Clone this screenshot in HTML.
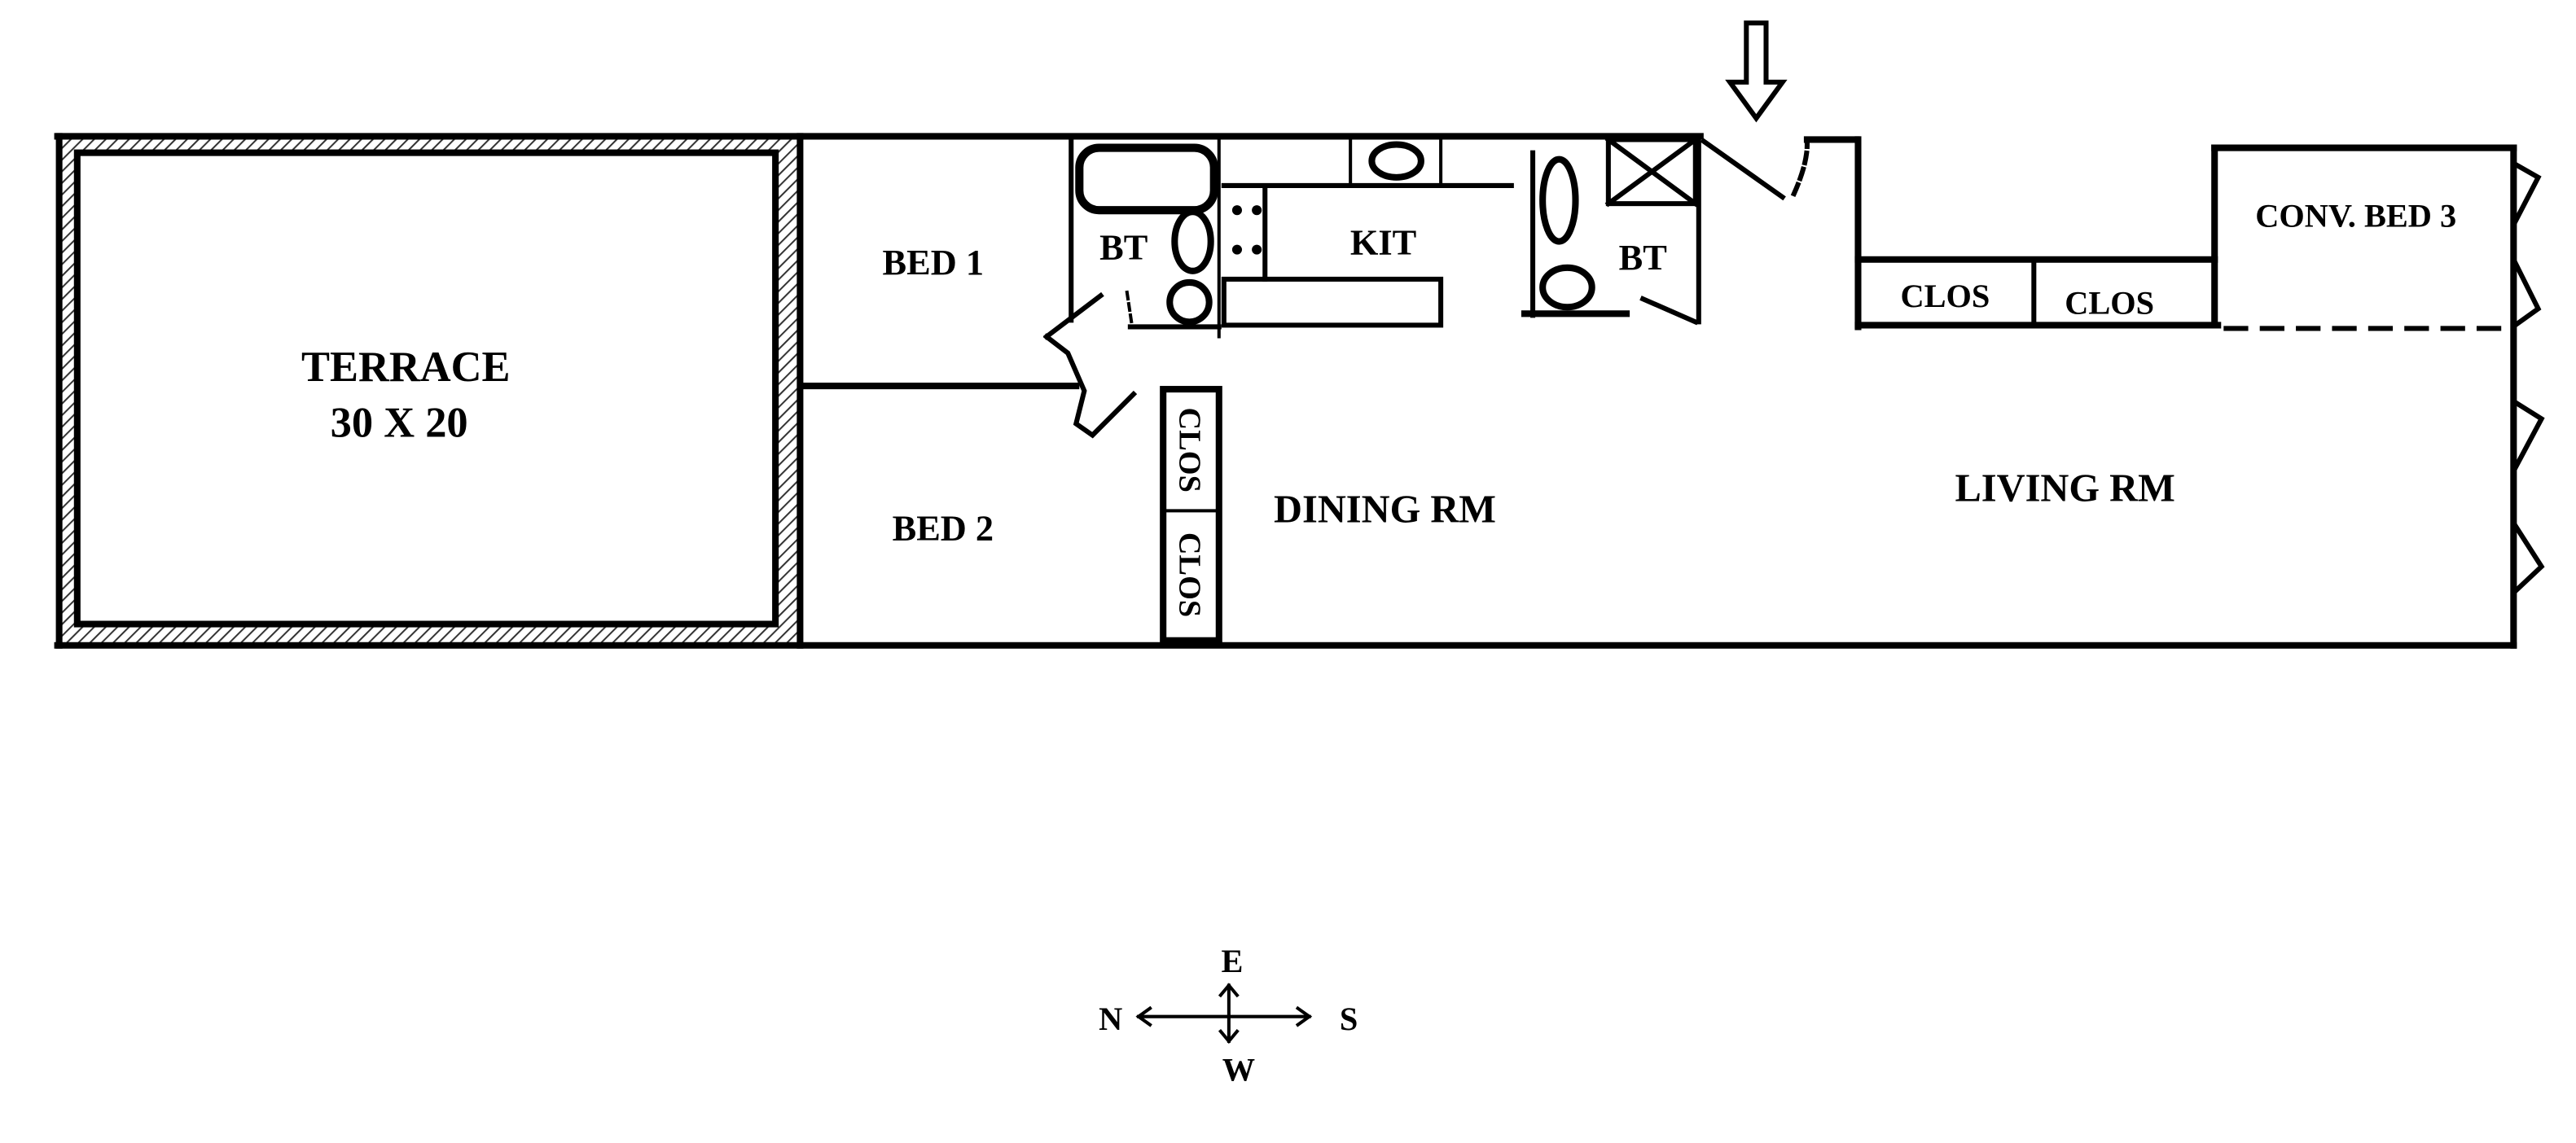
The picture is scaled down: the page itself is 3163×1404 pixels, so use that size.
<!DOCTYPE html>
<html><head><meta charset="utf-8"><style>
html,body{margin:0;padding:0;background:#fff;}
svg{display:block;}
text{font-family:"Liberation Serif",serif;font-weight:bold;fill:#000;}
</style></head><body>
<svg width="3163" height="1404" viewBox="0 0 1568 696" preserveAspectRatio="none" xmlns="http://www.w3.org/2000/svg">
<defs>
<pattern id="h" width="5" height="5" patternUnits="userSpaceOnUse" patternTransform="rotate(45)">
<rect width="5" height="5" fill="#fff"/><line x1="0" y1="0" x2="0" y2="5" stroke="#333" stroke-width="2"/></pattern>
</defs>
<g fill="none" stroke="#000" stroke-linecap="square">
<!-- terrace -->
<rect x="35" y="83" width="453" height="310" fill="url(#h)" stroke="none"/>
<rect x="47" y="93" width="425" height="287" fill="#fff" stroke="#000" stroke-width="4"/>
<line x1="35" y1="83" x2="1035" y2="83" stroke-width="4"/>
<line x1="35" y1="393" x2="1530" y2="393" stroke-width="4"/>
<line x1="36" y1="83" x2="36" y2="393" stroke-width="4"/>
<line x1="487" y1="83" x2="487" y2="393" stroke-width="4"/>
<!-- bed walls -->
<line x1="488" y1="235" x2="655" y2="235" stroke-width="4"/>
<line x1="652" y1="85" x2="652" y2="195" stroke-width="3"/>
<!-- bath 1 -->
<rect x="657" y="90" width="82" height="38" rx="12" stroke-width="5"/>
<ellipse cx="726" cy="147" rx="11" ry="18" stroke-width="4"/>
<ellipse cx="724" cy="184" rx="12" ry="12" stroke-width="4"/>
<line x1="742" y1="85" x2="742" y2="205" stroke-width="2"/>
<line x1="688" y1="199" x2="742" y2="199" stroke-width="3"/>
<line x1="670" y1="180" x2="637" y2="205" stroke-width="3"/>
<polyline points="637,205 650,215 660,238 655,258 665,265 690,240" stroke-width="3"/>
<line x1="686" y1="178" x2="689" y2="198" stroke-width="2" stroke-dasharray="4,3"/>
<!-- kitchen -->
<line x1="745" y1="113" x2="920" y2="113" stroke-width="3"/>
<rect x="822" y="84" width="55" height="29" stroke-width="2"/>
<ellipse cx="850" cy="98" rx="15" ry="10" stroke-width="4"/>
<line x1="770" y1="115" x2="770" y2="170" stroke-width="3"/>
<rect x="745" y="170" width="132" height="28" stroke-width="3"/>
<circle cx="753" cy="128" r="3" fill="#000" stroke="none"/><circle cx="765" cy="128" r="3" fill="#000" stroke="none"/>
<circle cx="753" cy="152" r="3" fill="#000" stroke="none"/><circle cx="765" cy="152" r="3" fill="#000" stroke="none"/>
<!-- bath 2 -->
<line x1="933" y1="93" x2="933" y2="192" stroke-width="3"/>
<line x1="928" y1="191" x2="990" y2="191" stroke-width="4"/>
<line x1="1034" y1="85" x2="1034" y2="196" stroke-width="3"/>
<rect x="979" y="85" width="53" height="39" stroke-width="3"/>
<line x1="979" y1="85" x2="1032" y2="124" stroke-width="3"/><line x1="1032" y1="85" x2="979" y2="124" stroke-width="3"/>
<ellipse cx="949" cy="122" rx="10" ry="25" stroke-width="4"/>
<ellipse cx="954" cy="175" rx="15" ry="12" stroke-width="4"/>
<line x1="1000" y1="182" x2="1032" y2="196" stroke-width="3"/>
<!-- entry door -->
<line x1="1037" y1="86" x2="1085" y2="120" stroke-width="3"/>
<path d="M1092,118 Q1100,100 1100,88" stroke-width="3" stroke-dasharray="6,4"/>
<line x1="1100" y1="85" x2="1130" y2="85" stroke-width="4"/>
<line x1="1131" y1="85" x2="1131" y2="199" stroke-width="4"/>
<!-- entrance arrow -->
<path d="M1063,14 L1075,14 L1075,50 L1085,50 L1069,72 L1053,50 L1063,50 Z" stroke-width="3"/>
<!-- closets -->
<line x1="1131" y1="158" x2="1348" y2="158" stroke-width="4"/>
<line x1="1131" y1="198" x2="1350" y2="198" stroke-width="4"/>
<line x1="1238" y1="158" x2="1238" y2="198" stroke-width="3"/>
<line x1="1348" y1="90" x2="1348" y2="198" stroke-width="4"/>
<line x1="1348" y1="90" x2="1530" y2="90" stroke-width="4"/>
<line x1="1530" y1="90" x2="1530" y2="393" stroke-width="4"/>
<line x1="1355" y1="200" x2="1528" y2="200" stroke-width="3" stroke-dasharray="12,10"/>
<!-- windows -->
<polyline points="1531,100 1545,108 1531,135" stroke-width="3"/>
<polyline points="1531,160 1545,188 1531,198" stroke-width="3"/>
<polyline points="1531,245 1547,255 1531,285" stroke-width="3"/>
<polyline points="1531,320 1547,345 1531,360" stroke-width="3"/>
<!-- dining closet -->
<rect x="708" y="237" width="34" height="153" stroke-width="4"/>
<line x1="708" y1="311" x2="742" y2="311" stroke-width="2"/>
<!-- compass -->
<line x1="693" y1="619" x2="797" y2="619" stroke-width="2"/>
<polyline points="700,614 693,619 700,624" stroke-width="2"/>
<polyline points="790,614 797,619 790,624" stroke-width="2"/>
<line x1="748" y1="600" x2="748" y2="634" stroke-width="2"/>
<polyline points="743,606 748,600 753,606" stroke-width="2"/>
<polyline points="743,628 748,634 753,628" stroke-width="2"/>
</g>
<text x="247" y="232" font-size="26" text-anchor="middle">TERRACE</text>
<text x="243" y="266" font-size="26" text-anchor="middle">30 X 20</text>
<text x="568" y="167" font-size="22" text-anchor="middle">BED 1</text>
<text x="574" y="329" font-size="22" text-anchor="middle">BED 2</text>
<text x="684" y="158" font-size="22" text-anchor="middle">BT</text>
<text x="1000" y="164" font-size="22" text-anchor="middle">BT</text>
<text x="842" y="155" font-size="22" text-anchor="middle">KIT</text>
<text x="843" y="318" font-size="24" text-anchor="middle">DINING RM</text>
<text x="1257" y="305" font-size="24" text-anchor="middle">LIVING RM</text>
<text x="1184" y="187" font-size="20" text-anchor="middle">CLOS</text>
<text x="1284" y="191" font-size="20" text-anchor="middle">CLOS</text>
<text x="1434" y="138" font-size="20" text-anchor="middle">CONV. BED 3</text>
<text transform="translate(718,274) rotate(90)" font-size="19" text-anchor="middle">CLOS</text>
<text transform="translate(718,350) rotate(90)" font-size="19" text-anchor="middle">CLOS</text>
<text x="676" y="627" font-size="20" text-anchor="middle">N</text>
<text x="821" y="627" font-size="20" text-anchor="middle">S</text>
<text x="750" y="592" font-size="20" text-anchor="middle">E</text>
<text x="754" y="658" font-size="20" text-anchor="middle">W</text>
</svg>
</body></html>
